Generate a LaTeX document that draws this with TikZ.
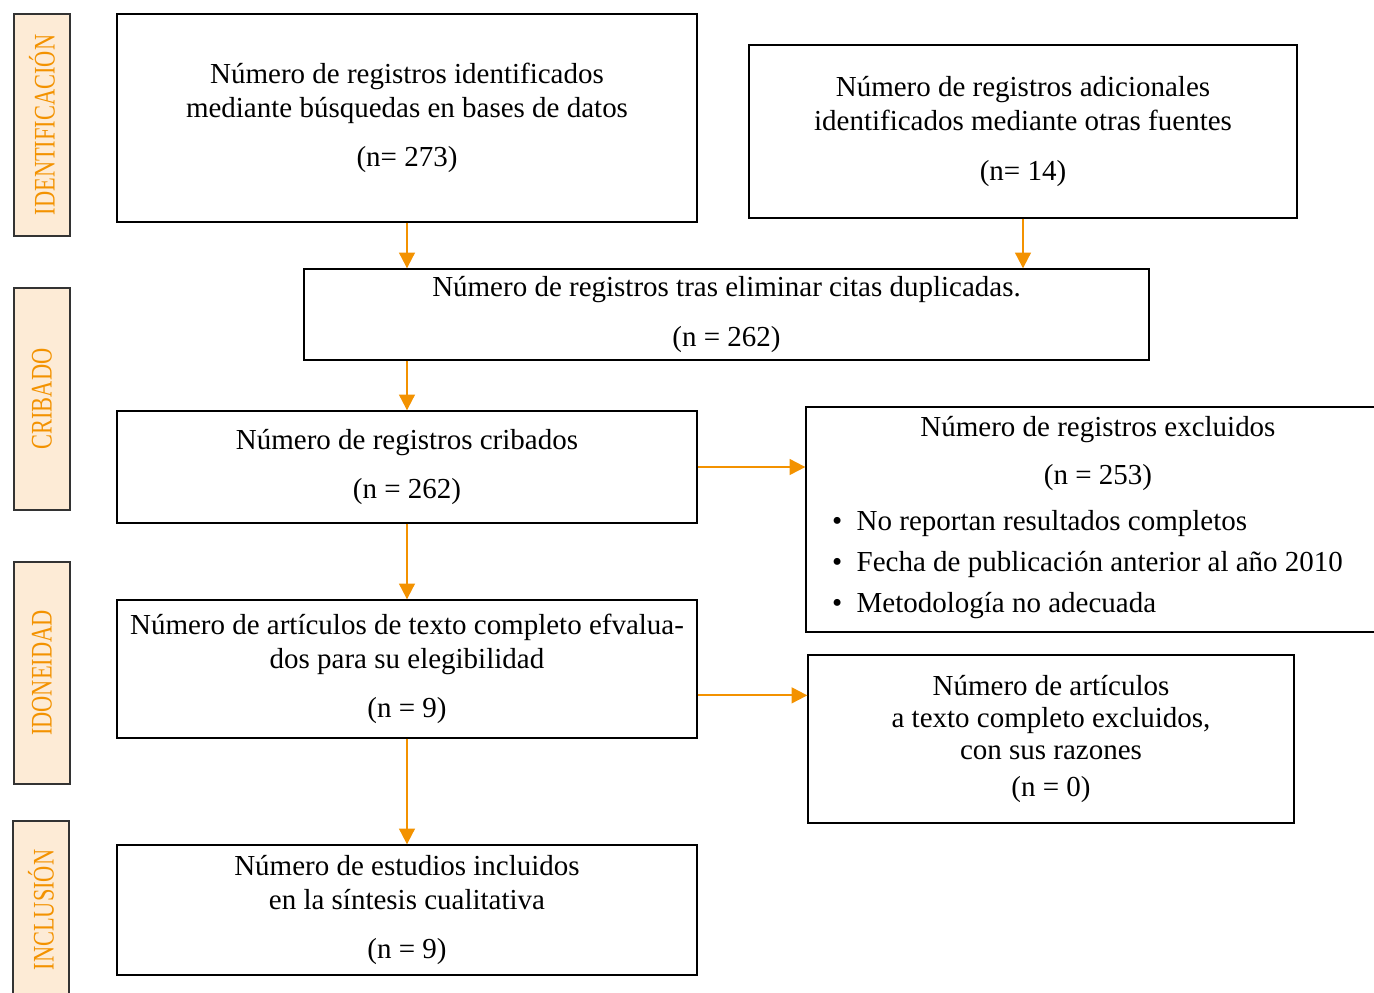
\documentclass[tikz,border=0pt]{standalone}
\usepackage{fontspec}
\setmainfont{Liberation Serif}
\newfontfamily\sidefont[FakeStretch=0.75]{Liberation Serif}
\usetikzlibrary{arrows.meta}
\definecolor{prismaorange}{HTML}{F39200}
\definecolor{prismafill}{HTML}{FDEBD6}

\begin{document}
\begin{tikzpicture}[x=0.02cm,y=-0.02cm,
    box/.style={draw, line width=0.8pt, align=center, inner sep=2pt,
      font=\fontsize{16.5}{19.3}\selectfont},
    phase/.style={draw=black!80, line width=0.8pt, fill=prismafill,
      minimum width=4.44cm, minimum height=1.12cm, text=prismaorange,
      font=\sidefont\fontsize{17}{20}\selectfont, rotate=90},
    flow/.style={prismaorange, line width=1.2pt, -{Triangle[length=9pt,width=9pt]}}]
  \useasboundingbox (0,0) rectangle (1374,992);

  %% phases on the left
  \node [phase] (ident) at (42,125) {IDENTIFICACIÓN};
  \node [phase] (crib)  at (42,399) {CRIBADO};
  \node [phase] (idon)  at (42,673) {IDONEIDAD};
  \node [phase, minimum width=3.56cm] (incl) at (41,910) {INCLUSIÓN};

  %% identification
  \node [box, minimum width=11.6cm, minimum height=4.16cm] (bases) at (407,118)
    {Número de registros identificados\\mediante búsquedas en bases de datos\\[9pt](n= 273)};
  \node [box, minimum width=10.96cm, minimum height=3.46cm] (otras) at (1023,131.5)
    {Número de registros adicionales\\identificados mediante otras fuentes\\[9pt](n= 14)};

  %% screening
  \node [box, minimum width=16.9cm, minimum height=1.82cm] (dupl) at (726.5,314.5)
    {Número de registros tras eliminar citas duplicadas.\\[9pt](n = 262)};
  \node [box, minimum width=11.6cm, minimum height=2.24cm] (crib2) at (407,467)
    {Número de registros cribados\\[9pt](n = 262)};
  \node [box, minimum width=11.68cm, minimum height=4.5cm] (excl) at (1098,519.5)
    {Número de registros excluidos\\[8pt](n = 253)\\[8pt]
     \begin{tabular}{@{}l@{}}
       \textbullet\ \ No reportan resultados completos\\[4pt]
       \textbullet\ \ Fecha de publicación anterior al año 2010\\[4pt]
       \textbullet\ \ Metodología no adecuada
     \end{tabular}\hspace*{12pt}};

  %% eligibility
  \node [box, minimum width=11.6cm, minimum height=2.76cm] (texto) at (407,669)
    {Número de artículos de texto completo efvalua-\\dos para su elegibilidad\\[9pt](n = 9)};
  \node [box, minimum width=9.72cm, minimum height=3.36cm, font=\fontsize{16.5}{18.1}\selectfont] (excl2) at (1051,739)
    {Número de artículos\\a texto completo excluidos,\\con sus razones\\[3pt](n = 0)};

  %% inclusion
  \node [box, minimum width=11.6cm, minimum height=2.6cm] (incluidos) at (407,910)
    {Número de estudios incluidos\\en la síntesis cualitativa\\[9pt](n = 9)};

  %% arrows
  \draw [flow] (bases.south) -- (bases.south |- dupl.north);
  \draw [flow] (otras.south) -- (otras.south |- dupl.north);
  \draw [flow] (dupl.south -| crib2.north) -- (crib2.north);
  \draw [flow] (crib2.east) -- (crib2.east -| excl.west);
  \draw [flow] (crib2.south) -- (texto.north);
  \draw [flow] ([yshift=-15pt]texto.east) coordinate (a6) -- (a6 -| excl2.west);
  \draw [flow] (texto.south) -- (incluidos.north);
\end{tikzpicture}
\end{document}
